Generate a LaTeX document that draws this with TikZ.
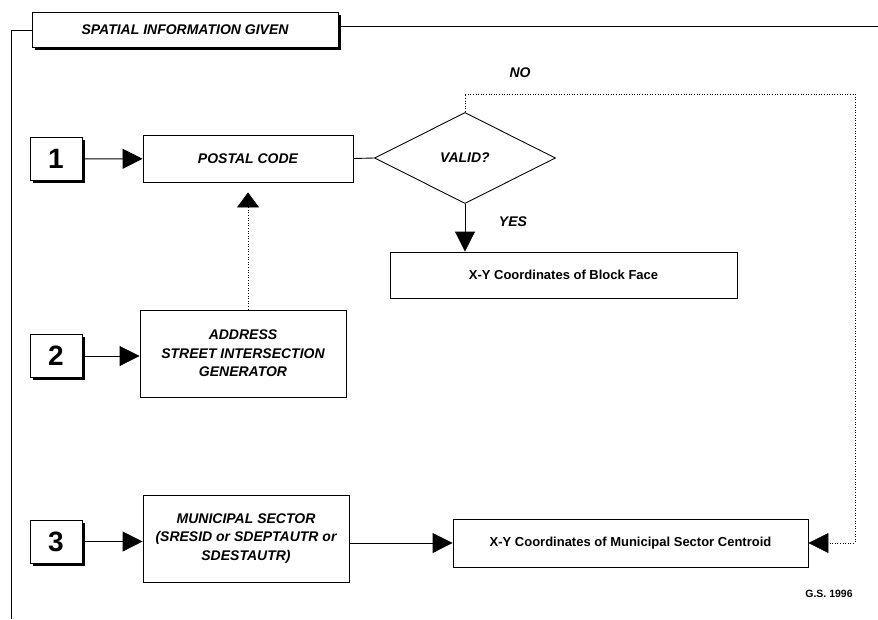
\documentclass[tikz,border=0pt]{standalone}
\usepackage{fontspec}
\setmainfont{Liberation Sans}
\usetikzlibrary{arrows.meta,shapes.geometric,shadows}

\begin{document}
\begin{tikzpicture}[x=1pt,y=-1pt,
  every node/.style={align=center, inner sep=2pt},
  caps/.style={font=\fontsize{14}{18.5}\selectfont\bfseries\itshape},
  plain/.style={font=\fontsize{13}{15}\selectfont\bfseries},
  box/.style={draw, line width=0.9pt, fill=white},
  shadowbox/.style={box, drop shadow={shadow xshift=2.5pt, shadow yshift=-2.5pt, opacity=1, fill=black}},
  numbox/.style={shadowbox, minimum width=52pt, minimum height=43pt, font=\fontsize{28}{30}\selectfont\bfseries},
  tip/.style={-{Triangle[length=20pt,width=20pt]}},
  flow/.style={line width=0.9pt, tip},
  link/.style={line width=0.9pt},
  dotline/.style={line width=0.8pt, dash pattern=on 1pt off 1.6pt},
  frame/.style={line width=0.8pt}
]
\useasboundingbox (0,0) rectangle (878,619);

% heading and surrounding frame
\node[shadowbox, caps, minimum width=306pt, minimum height=35pt] (title) at (185,30) {SPATIAL INFORMATION GIVEN};
\coordinate (frameright) at (878,26);
\coordinate (framebottom) at (11,619);
\draw[frame] (title.west) -| (framebottom);
\draw[frame] (title.east |- frameright) -- (frameright);

% input numbers
\node[numbox] (n1) at (56,159) {1};
\node[numbox] (n2) at (56,356) {2};
\node[numbox] (n3) at (56,541.5) {3};

% process boxes
\node[box, caps, minimum width=210pt, minimum height=47pt] (postal) at (248,158.5) {POSTAL CODE};
\node[box, caps, minimum width=206pt, minimum height=87pt] (address) at (243,353.5) {ADDRESS\\STREET INTERSECTION\\GENERATOR};
\node[box, caps, minimum width=206pt, minimum height=87pt] (municipal) at (246,538.5) {MUNICIPAL SECTOR\\(SRESID or SDEPTAUTR or\\SDESTAUTR)};
\node[draw, line width=0.9pt, diamond, caps, minimum width=181pt, minimum height=91pt, inner sep=0pt] (valid) at (465,158) {VALID?};
\node[box, plain, minimum width=347pt, minimum height=46pt] (block) at (563.5,275) {X-Y Coordinates of Block Face};
\node[box, plain, minimum width=355pt, minimum height=48pt] (centroid) at (630.5,543) {X-Y Coordinates of Municipal Sector Centroid};

% labels
\node[caps] (no) at (520,73) {NO};
\node[caps] (yes) at (513,222) {YES};
\node[font=\fontsize{10.5}{12}\selectfont\bfseries] (sig) at (829,594) {G.S. 1996};

% connectors
\draw[flow] (n1) -- (postal);
\draw[flow] (n2.east) -- (n2.east -| address.west);
\draw[flow] (n3.east) -- (n3.east -| municipal.west);
\draw[link] (postal.east) -- (valid.west);
\draw[flow] (valid.south) -- (valid.south |- block.north);
\draw[flow] (municipal.east |- centroid.west) -- (centroid.west);
\draw[dotline, -{Triangle[length=15pt,width=22pt]}, shorten >=10pt] (postal.south |- address.north) -- (postal.south);
\coordinate (notop) at (855,94);
\draw[dotline, tip] (valid.north) |- (notop) |- (centroid.east);
\end{tikzpicture}
\end{document}
